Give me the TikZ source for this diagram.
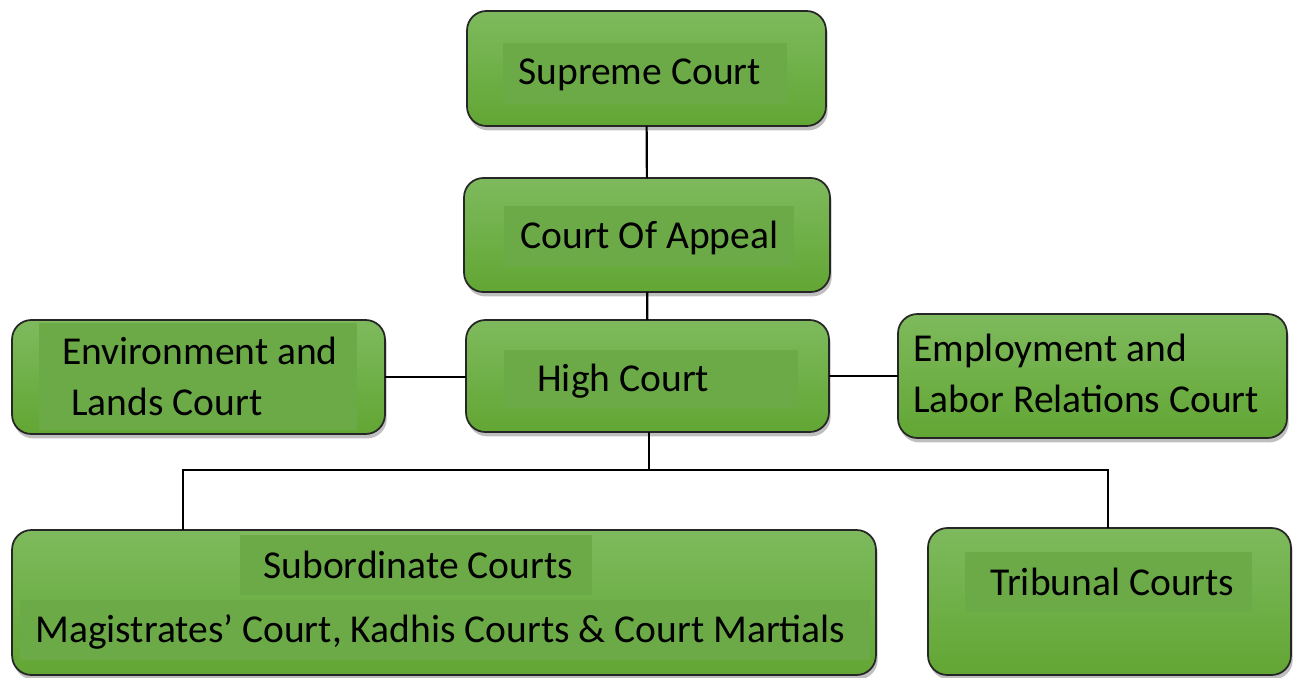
\documentclass[tikz,border=0pt]{standalone}
\usepackage{fontspec}
\setmainfont{Carlito}
\usetikzlibrary{shadows}

\definecolor{boxtop}{RGB}{126,186,93}
\definecolor{boxbot}{RGB}{98,166,52}
\definecolor{textbg}{RGB}{108,170,72}

\tikzset{
  court/.style={draw=black!85, line width=1pt, rounded corners=11pt, outer sep=0pt,
    top color=boxtop, bottom color=boxbot,
    drop shadow={shadow xshift=1pt, shadow yshift=-2.5pt, opacity=0.5}},
  courttext/.style={anchor=base west, inner sep=0pt, align=left,
    font=\fontsize{22.5}{28.5}\selectfont},
  textbox/.style={fill=textbg},
  link/.style={line width=1.2pt, black}
}

\begin{document}
\begin{tikzpicture}[x=0.02cm, y=-0.02cm]
            \useasboundingbox (0,0) rectangle (1299,677);

            % the courts
            \node[court, minimum width=7.18cm, minimum height=2.30cm] at (646.5,68.5) (supreme) {};
            \node[court, minimum width=7.32cm, minimum height=2.28cm] at (647,235) (appeal) {};
            \node[court, minimum width=7.26cm, minimum height=2.24cm] at (647.5,376) (high) {};
            \node[court, minimum width=7.46cm, minimum height=2.28cm] at (198.5,377) (env) {};
            \node[court, minimum width=7.78cm, minimum height=2.48cm] at (1092.5,376) (emp) {};
            \node[court, minimum width=17.28cm, minimum height=2.90cm] at (444,602.5) (sub) {};
            \node[court, minimum width=7.26cm, minimum height=2.94cm] at (1109.5,601.5) (trib) {};

            % text frames
            \fill[textbox] (503,43) rectangle (787,104);
            \fill[textbox] (504,206) rectangle (794,266);
            \fill[textbox] (504,350) rectangle (798,408);
            \fill[textbox] (39,323) rectangle (357,430);
            \fill[textbox] (240,535) rectangle (592,595);
            \fill[textbox] (20,600) rectangle (870,660);
            \fill[textbox] (965,552) rectangle (1252,612);

            \node[courttext] at (518,84) (supremetxt) {Supreme Court};
            \node[courttext] at (520,248) (appealtxt) {Court Of Appeal};
            \node[courttext] at (537,391) (hightxt) {High Court};
            \node[courttext] at (62,415) (envtxt) {Environment and\\\hspace{5pt}Lands Court};
            \node[courttext] at (913,412) (emptxt) {Employment and\\Labor Relations Court};
            \node[courttext] at (263,578) (subtxt) {Subordinate Courts};
            \node[courttext] at (35,642) (magtxt) {Magistrates’ Court, Kadhis Courts \& Court Martials};
            \node[courttext] at (990,595) (tribtxt) {Tribunal Courts};

            % connectors
            \coordinate (bus) at (649,470);
            \coordinate (busl) at (183,470);
            \coordinate (busr) at (1108,470);

            \draw[link] (supreme) -- (appeal);
            \draw[link] (appeal) -- (high);
            \draw[link] (env.east) -- (env.east -| high.west);
            \draw[link] (high.east) -- (high.east -| emp.west);
            \draw[link] (high.south -| bus) -- (bus);
            \draw[link] (sub.north -| busl) -- (busl) -- (busr) -- (trib.north -| busr);
        \end{tikzpicture}
\end{document}
